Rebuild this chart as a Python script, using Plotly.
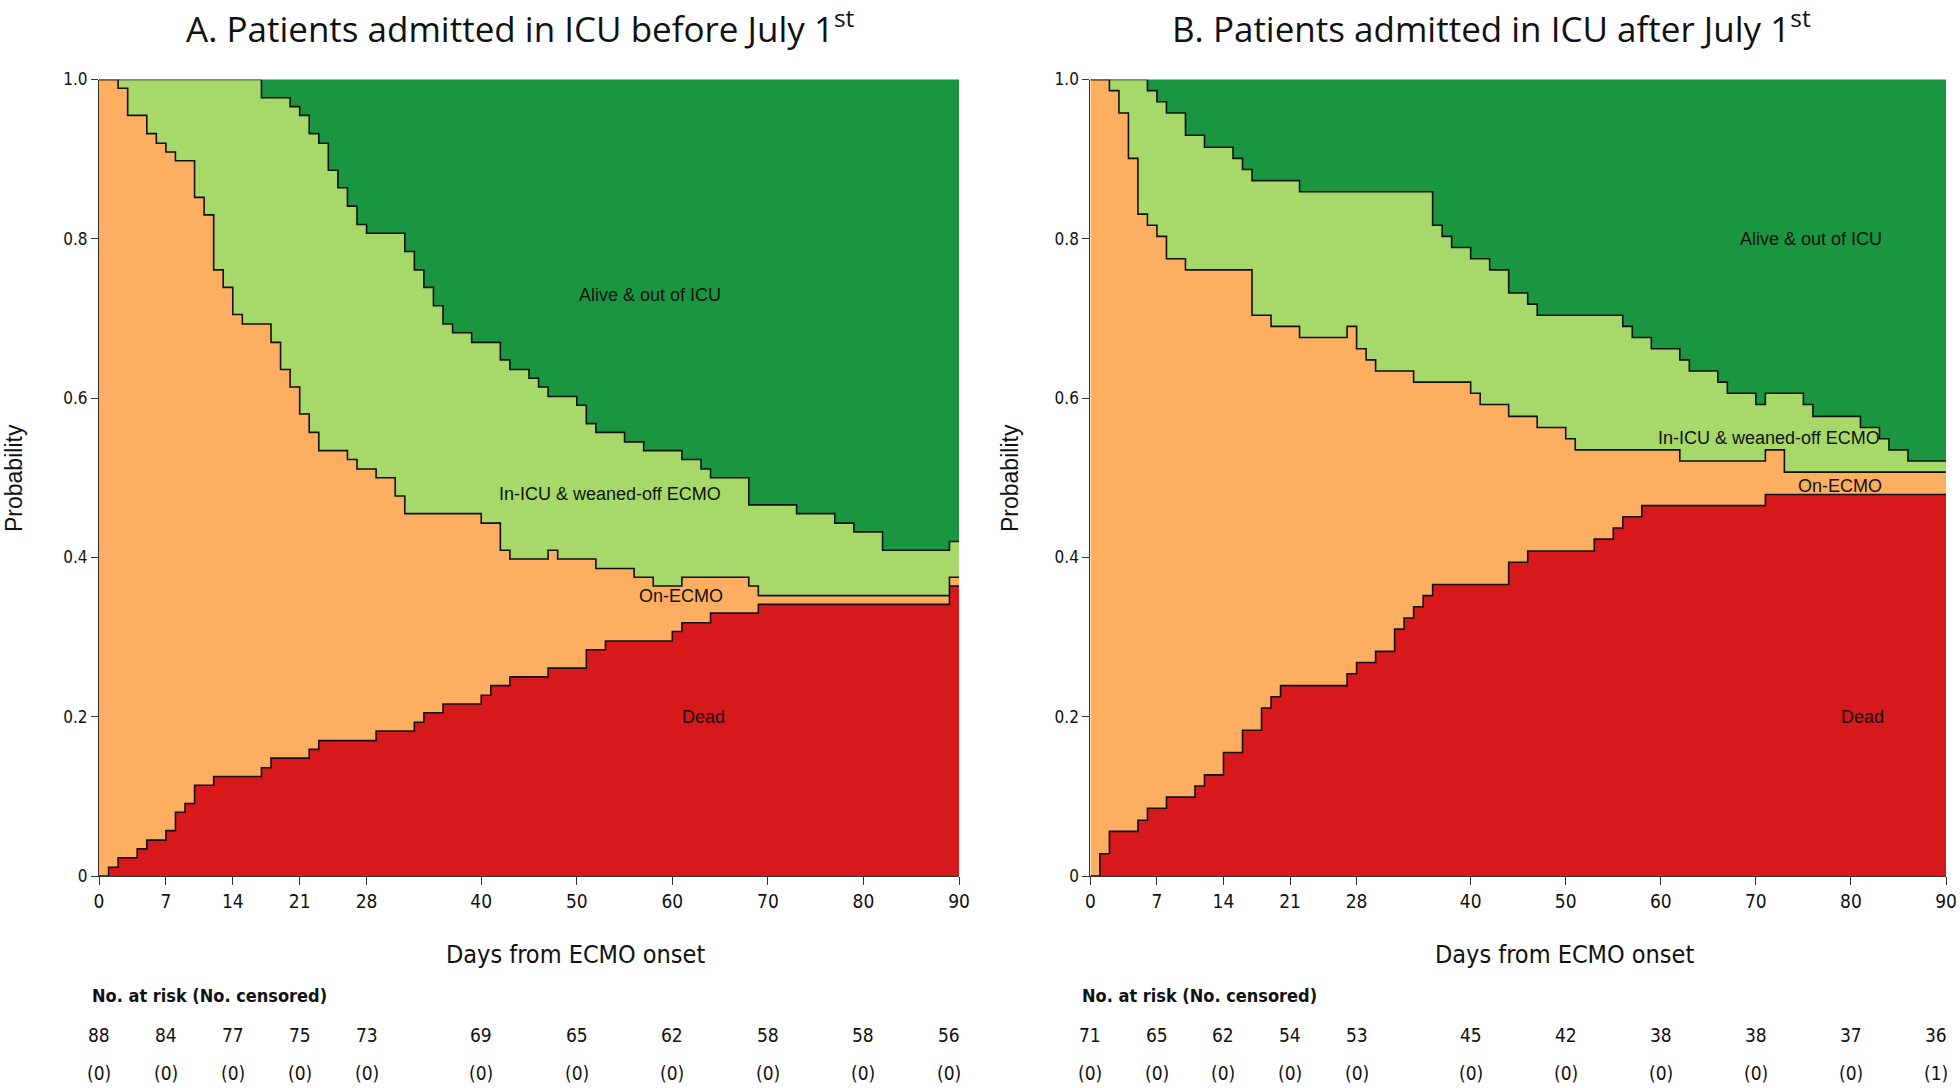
import plotly.graph_objects as go

# ---------------- data ----------------
# Panel A: patients admitted before July 1st (cumulative stacked probabilities, step functions)
A_dead_days = [0, 1, 2, 4, 5, 7, 8, 9, 10, 12, 17, 18, 22, 23, 29, 33, 34, 36, 40, 41, 43, 47, 51, 53, 60, 61, 64, 69, 89]
A_dead_vals = [0, 0.011, 0.023, 0.034, 0.045, 0.057, 0.080, 0.091, 0.114, 0.125, 0.136, 0.148, 0.159, 0.170,
               0.182, 0.193, 0.205, 0.216, 0.227, 0.239, 0.250, 0.261, 0.284, 0.295, 0.307, 0.318, 0.330, 0.341, 0.364]
A_ecmo_days = [0, 2, 3, 5, 6, 7, 8, 10, 11, 12, 13, 14, 15, 18, 19, 20, 21, 22, 23, 26, 27, 29, 31, 32, 40, 42,
               43, 47, 48, 52, 56, 58, 61, 68, 69, 89]
A_ecmo_vals = [1.0, 0.989, 0.955, 0.932, 0.920, 0.909, 0.898, 0.852, 0.830, 0.761, 0.739, 0.705, 0.693, 0.670,
               0.636, 0.614, 0.580, 0.557, 0.534, 0.523, 0.511, 0.500, 0.477, 0.455, 0.443, 0.409, 0.398, 0.409,
               0.398, 0.386, 0.375, 0.364, 0.375, 0.364, 0.352, 0.375]
A_icu_days = [0, 17, 20, 21, 22, 23, 24, 25, 26, 27, 28, 32, 33, 34, 35, 36, 37, 39, 42, 43, 45, 46, 47, 50, 51,
              52, 55, 57, 61, 63, 64, 68, 73, 77, 79, 82, 89]
A_icu_vals = [1.0, 0.977, 0.966, 0.955, 0.932, 0.920, 0.886, 0.864, 0.841, 0.818, 0.807, 0.784, 0.761, 0.739,
              0.716, 0.693, 0.682, 0.670, 0.648, 0.636, 0.625, 0.614, 0.602, 0.591, 0.568, 0.557, 0.545, 0.534,
              0.523, 0.511, 0.500, 0.466, 0.455, 0.443, 0.432, 0.409, 0.420]

# Panel B: patients admitted after July 1st
B_dead_days = [0, 1, 2, 5, 6, 8, 11, 12, 14, 16, 18, 19, 20, 27, 28, 30, 32, 33, 34, 35, 36, 44, 46, 53, 55, 56, 58, 71]
B_dead_vals = [0, 0.028, 0.056, 0.070, 0.085, 0.099, 0.113, 0.127, 0.155, 0.183, 0.211, 0.225, 0.239, 0.254,
               0.268, 0.282, 0.310, 0.324, 0.338, 0.352, 0.366, 0.394, 0.408, 0.423, 0.437, 0.451, 0.465, 0.479]
B_ecmo_days = [0, 2, 3, 4, 5, 6, 7, 8, 10, 17, 19, 22, 27, 28, 29, 30, 34, 40, 41, 44, 47, 50, 51, 62, 71, 73]
B_ecmo_vals = [1.0, 0.986, 0.958, 0.901, 0.831, 0.817, 0.803, 0.775, 0.761, 0.704, 0.690, 0.676, 0.690, 0.662,
               0.648, 0.634, 0.620, 0.606, 0.592, 0.577, 0.563, 0.549, 0.535, 0.521, 0.535, 0.507]
B_icu_days = [0, 6, 7, 8, 10, 12, 15, 16, 17, 22, 36, 37, 38, 40, 42, 44, 46, 47, 56, 57, 59, 62, 63, 66, 67, 70,
              71, 75, 76, 81, 83, 84, 86]
B_icu_vals = [1.0, 0.986, 0.972, 0.958, 0.930, 0.915, 0.901, 0.887, 0.873, 0.859, 0.817, 0.803, 0.789, 0.775,
              0.761, 0.732, 0.718, 0.704, 0.690, 0.676, 0.662, 0.648, 0.634, 0.620, 0.606, 0.592, 0.606, 0.592,
              0.577, 0.563, 0.549, 0.535, 0.521]

tick_days = [0, 7, 14, 21, 28, 40, 50, 60, 70, 80, 90]
y_ticks = [0, 0.2, 0.4, 0.6, 0.8, 1.0]
y_tick_text = ["0", "0.2", "0.4", "0.6", "0.8", "1.0"]
A_at_risk = [88, 84, 77, 75, 73, 69, 65, 62, 58, 58, 56]
A_censored = [0, 0, 0, 0, 0, 0, 0, 0, 0, 0, 0]
B_at_risk = [71, 65, 62, 54, 53, 45, 42, 38, 38, 37, 36]
B_censored = [0, 0, 0, 0, 0, 0, 0, 0, 0, 0, 1]

titles = ["A. Patients admitted in ICU before July 1<sup>st</sup>",
          "B. Patients admitted in ICU after July 1<sup>st</sup>"]
state_names = ["Alive & out of ICU", "In-ICU & weaned-off ECMO", "On-ECMO", "Dead"]

# ---------------- styling ----------------
W, H = 1960, 1088
C_RED, C_ORANGE, C_LGREEN, C_DGREEN = "#d7191c", "#fdae61", "#a6d96a", "#1a9641"
NARROW = "Liberation Sans Narrow, Arial Narrow, DejaVu Sans Condensed, sans-serif"
ARIAL = "Liberation Sans, Arial, sans-serif"
TITLE_FONT = "Open Sans, Lato, sans-serif"

y_dom = [1 - 876 / H, 1 - 79.5 / H]
x_doms = [[99 / W, 959 / W], [1090.4 / W, 1946 / W]]


def step_xy(days, vals, end=90):
    xs, ys = [], []
    for i, (d, v) in enumerate(zip(days, vals)):
        if i > 0:
            xs.append(d)
            ys.append(vals[i - 1])
        xs.append(d)
        ys.append(v)
    xs.append(end)
    ys.append(vals[-1])
    return xs, ys


fig = go.Figure()

panels = [
    (A_dead_days, A_dead_vals, A_ecmo_days, A_ecmo_vals, A_icu_days, A_icu_vals),
    (B_dead_days, B_dead_vals, B_ecmo_days, B_ecmo_vals, B_icu_days, B_icu_vals),
]

for k, (dd, dv, ed, ev, idays, iv) in enumerate(panels):
    xa = "x" if k == 0 else "x2"
    ya = "y" if k == 0 else "y2"
    x1, y1 = step_xy(dd, dv)
    x2, y2 = step_xy(ed, ev)
    x3, y3 = step_xy(idays, iv)
    fig.add_trace(go.Scatter(x=x1, y=y1, mode="lines", fill="tozeroy", fillcolor=C_RED,
                             line=dict(color="#111111", width=1.6), xaxis=xa, yaxis=ya,
                             hoverinfo="skip", showlegend=False))
    fig.add_trace(go.Scatter(x=x2, y=y2, mode="lines", fill="tonexty", fillcolor=C_ORANGE,
                             line=dict(color="#111111", width=1.6), xaxis=xa, yaxis=ya,
                             hoverinfo="skip", showlegend=False))
    fig.add_trace(go.Scatter(x=x3, y=y3, mode="lines", fill="tonexty", fillcolor=C_LGREEN,
                             line=dict(color="#111111", width=1.6), xaxis=xa, yaxis=ya,
                             hoverinfo="skip", showlegend=False))
    fig.add_trace(go.Scatter(x=[0, 90], y=[1, 1], mode="lines", fill="tonexty", fillcolor=C_DGREEN,
                             line=dict(color="#888888", width=1.2), xaxis=xa, yaxis=ya,
                             hoverinfo="skip", showlegend=False))

axis_common_x = dict(range=[0, 90], tickmode="array", tickvals=tick_days, ticks="outside", ticklen=8,
                     tickcolor="#333333", showline=True, linecolor="#333333", linewidth=1.2,
                     showgrid=False, zeroline=False, automargin=False,
                     tickfont=dict(family=NARROW, size=19, color="#111111"))
axis_common_y = dict(range=[0, 1], tickmode="array", tickvals=y_ticks, ticktext=y_tick_text, ticks="outside",
                     ticklen=7, tickcolor="#333333", showline=True, linecolor="#333333", linewidth=1.2,
                     showgrid=False, zeroline=False, automargin=False,
                     tickfont=dict(family=NARROW, size=17, color="#111111"))

fig.update_layout(
    width=W, height=H, margin=dict(l=0, r=0, t=0, b=0, pad=0, autoexpand=False),
    paper_bgcolor="white", plot_bgcolor="white",
    xaxis=dict(axis_common_x, domain=x_doms[0], anchor="y"),
    yaxis=dict(axis_common_y, domain=y_dom, anchor="x"),
    xaxis2=dict(axis_common_x, domain=x_doms[1], anchor="y2"),
    yaxis2=dict(axis_common_y, domain=y_dom, anchor="x2"),
)

ann = []
label_pos = [
    # (x, y) in data coords for each state label, panel A then B
    [(57.7, 0.729), (53.5, 0.479), (60.9, 0.351), (63.3, 0.200)],
    [(75.8, 0.800), (71.4, 0.550), (78.8, 0.490), (81.2, 0.200)],
]
title_x = [520 / W, 1491 / W]
prob_x = [14 / W, 1010 / W]
xtitle_x = [575 / W, 1564 / W]
risk_label_x = [90 / W, 1080 / W]
risk_rows = [(A_at_risk, A_censored), (B_at_risk, B_censored)]

for k in range(2):
    xr = "x" if k == 0 else "x2"
    yr = "y" if k == 0 else "y2"
    ann.append(dict(text=titles[k], x=title_x[k], y=1, xref="paper", yref="paper",
                    showarrow=False, xanchor="center", yanchor="top", borderpad=0,
                    font=dict(family=TITLE_FONT, size=35, color="#111111")))
    ann.append(dict(text="Probability", x=prob_x[k], y=1 - 478 / H, xref="paper", yref="paper",
                    showarrow=False, textangle=-90, xanchor="center", yanchor="middle",
                    font=dict(family=ARIAL, size=23, color="#111111")))
    ann.append(dict(text="Days from ECMO onset", x=xtitle_x[k], y=1 - 954 / H, xref="paper", yref="paper",
                    showarrow=False, xanchor="center", yanchor="middle",
                    font=dict(family=NARROW, size=25, color="#111111")))
    for name, (lx, ly) in zip(state_names, label_pos[k]):
        ann.append(dict(text=name, x=lx, y=ly, xref=xr, yref=yr, showarrow=False,
                        xanchor="center", yanchor="middle",
                        font=dict(family=ARIAL, size=18, color="#111111")))
    ann.append(dict(text="<b>No. at risk (No. censored)</b>", x=risk_label_x[k], y=1 - 995 / H,
                    xref="paper", yref="paper", showarrow=False, xanchor="left", yanchor="middle",
                    font=dict(family=NARROW, size=18, color="#111111")))
    at_risk, cens = risk_rows[k]
    for i, d in enumerate(tick_days):
        xpos = d if d < 90 else d - 1
        ann.append(dict(text=str(at_risk[i]), x=xpos, y=1 - 1035 / H, xref=xr, yref="paper",
                        showarrow=False, xanchor="center", yanchor="middle",
                        font=dict(family=NARROW, size=19, color="#111111")))
        ann.append(dict(text="(" + str(cens[i]) + ")", x=xpos, y=1 - 1073 / H, xref=xr, yref="paper",
                        showarrow=False, xanchor="center", yanchor="middle",
                        font=dict(family=NARROW, size=19, color="#111111")))

fig.update_layout(annotations=ann)
fig.write_html("out.html", config={"displayModeBar": False},
               post_script="document.body.style.margin='0px';document.body.style.overflow='hidden';")
